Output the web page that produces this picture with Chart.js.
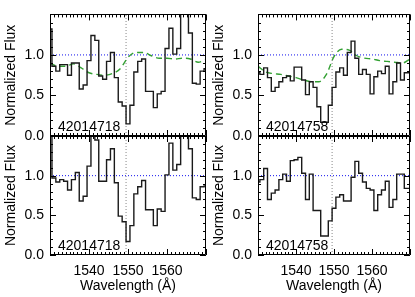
<!DOCTYPE html>
<html><head><meta charset="utf-8">
<script src="https://cdn.jsdelivr.net/npm/chart.js@4"></script>
<style>
html,body{margin:0;padding:0;background:#fff;width:415px;height:297px;overflow:hidden}
canvas{position:absolute;left:0;top:0}
</style></head><body>
<canvas id="c0" width="415" height="297"></canvas>
<canvas id="c1" width="415" height="297"></canvas>
<canvas id="c2" width="415" height="297"></canvas>
<canvas id="c3" width="415" height="297"></canvas>
<script>
// ---- data ----
const wavelength = [1530,1531,1532,1533,1534,1535,1536,1537,1538,1539,1540,1541,1542,1543,1544,1545,1546,1547,1548,1549,1550,1551,1552,1553,1554,1555,1556,1557,1558,1559,1560,1561,1562,1563,1564,1565,1566,1567,1568,1569,1570];
const flux42014718 = [1.32,0.86,0.80,0.88,0.88,0.75,0.90,0.90,0.58,0.63,0.93,1.24,1.18,0.74,0.70,0.92,1.03,0.72,0.42,0.37,0.15,0.38,0.79,0.92,0.95,0.55,0.55,0.35,0.52,0.55,1.08,1.33,1.01,1.08,1.65,1.65,1.27,0.65,0.64,0.80,0.83];
const normFlux42014718 = [1.60,0.97,0.92,0.95,0.93,0.82,0.95,1.04,0.68,0.74,1.12,1.55,1.45,0.93,0.93,1.20,1.34,0.91,0.49,0.42,0.17,0.37,0.77,0.86,0.94,0.57,0.57,0.37,0.58,0.55,1.01,1.41,1.07,1.14,1.70,1.60,1.34,0.72,0.70,0.86,0.87];
const flux42014758 = [0.78,0.76,0.84,0.72,0.55,0.60,0.67,0.72,0.74,0.68,0.85,0.85,0.69,0.51,0.67,0.60,0.36,0.17,0.17,0.38,0.60,0.79,0.84,0.75,1.03,1.17,0.96,0.76,0.82,0.76,0.52,0.73,0.80,0.77,0.86,0.52,0.67,0.90,0.69,0.78,0.78];
const normFlux42014758 = [0.92,0.95,1.09,0.70,0.78,0.82,0.95,1.02,0.93,1.19,1.20,1.23,1.03,0.70,1.02,0.56,0.56,0.24,0.24,0.43,0.59,0.73,0.76,0.68,0.68,0.98,1.18,1.03,0.92,0.84,0.82,0.56,0.76,0.82,0.93,0.60,0.70,1.02,1.02,0.84,0.84];
const modelWave = [1530,1532,1534,1536,1538,1540,1542,1544,1546,1548,1550,1552,1554,1556,1558,1560,1562,1564,1566,1568,1570];
const model42014718 = [0.90,0.86,0.86,0.89,0.84,0.78,0.76,0.75,0.77,0.83,0.97,1.03,1.03,0.99,0.96,0.96,0.95,0.96,0.95,0.91,0.94];
const model42014758 = [0.86,0.79,0.77,0.76,0.74,0.72,0.69,0.67,0.67,0.76,0.98,1.07,1.06,0.99,0.96,0.95,0.93,0.92,0.91,0.90,0.95];
const xTickValues = [1540,1550,1560];
const yTickValues = [0.0,0.5,1.0];
const lineCentre = 1549.5;
const continuumLevel = 1.0;
const xRange = [1530,1570];
const yRange = [0,1.5];

Chart.defaults.font.family = "'Liberation Sans', Arial, Helvetica, sans-serif";
Chart.defaults.font.size = 14;
Chart.defaults.color = '#000';

const framePlugin = {
  id: 'frame',
  afterDatasetsDraw(chart, args, o) {
    const {ctx, chartArea: a, scales: {x, y}} = chart;
    ctx.save();
    ctx.strokeStyle = '#000';
    ctx.lineWidth = 1;
    ctx.beginPath();
    ctx.rect(Math.round(a.left)+0.5, Math.round(a.top)+0.5, Math.round(a.right-a.left)-1, Math.round(a.bottom-a.top)-1);
    ctx.stroke();
    ctx.beginPath();
    for (let v = xRange[0]; v <= xRange[1]; v += 1) {
      const px = Math.round(x.getPixelForValue(v)) + 0.5;
      const len = (v % 10 === 0) ? 6 : 3;
      ctx.moveTo(px, a.bottom); ctx.lineTo(px, a.bottom - len);
      ctx.moveTo(px, a.top); ctx.lineTo(px, a.top + len);
    }
    for (let k = 0; k <= 15; k++) {
      const v = k / 10;
      const py = Math.round(y.getPixelForValue(v)) + 0.5;
      const len = (k % 5 === 0) ? 6 : 3;
      ctx.moveTo(a.left, py); ctx.lineTo(a.left + len, py);
      ctx.moveTo(a.right, py); ctx.lineTo(a.right - len, py);
    }
    ctx.stroke();
    ctx.fillStyle = '#000';
    ctx.font = "14px 'Liberation Sans', Arial, sans-serif";
    ctx.textBaseline = 'alphabetic';
    ctx.textAlign = 'left';
    ctx.fillText(o.label, a.left + 8, a.bottom - 5);
    ctx.restore();
  }
};

function makePanel(id, cfg) {
  const datasets = [{
    data: wavelength.map((w, i) => ({x: w, y: cfg.flux[i]})),
    stepped: 'middle', borderColor: '#1a1a1a', borderWidth: 1.4,
    pointRadius: 0, fill: false, clip: 0
  }];
  if (cfg.model) {
    datasets.push({
      data: modelWave.map((w, i) => ({x: w, y: cfg.model[i]})),
      borderColor: '#33a033', borderWidth: 1.4, borderDash: [6, 4],
      cubicInterpolationMode: 'monotone', pointRadius: 0, fill: false, clip: 0
    });
  }
  datasets.push({
    data: [{x: xRange[0], y: continuumLevel}, {x: xRange[1], y: continuumLevel}],
    borderColor: '#1010ee', borderWidth: 1, borderDash: [1, 2], pointRadius: 0, fill: false
  });
  datasets.push({
    data: [{x: lineCentre, y: yRange[0]}, {x: lineCentre, y: yRange[1]}],
    borderColor: '#888', borderWidth: 1, borderDash: [1, 2], pointRadius: 0, fill: false
  });
  new Chart(document.getElementById(id), {
    type: 'line',
    data: {datasets},
    plugins: [framePlugin],
    options: {
      responsive: false, animation: false, devicePixelRatio: 1, events: [],
      layout: {padding: {left: cfg.padLeft, right: 415 - cfg.right, top: cfg.top, bottom: cfg.showX ? 0 : 297 - cfg.bottom}},
      plugins: {legend: {display: false}, tooltip: {enabled: false}, frame: {label: cfg.label}},
      scales: {
        x: {
          type: 'linear', min: xRange[0], max: xRange[1], display: cfg.showX,
          grid: {display: false, drawTicks: false}, border: {display: false},
          afterBuildTicks: s => { s.ticks = xTickValues.map(v => ({value: v})); },
          afterFit: s => { s.height = cfg.showX ? 297 - cfg.bottom : 0; },
          ticks: {padding: 8, maxRotation: 0, autoSkip: false, callback: v => String(v)},
          title: {display: true, text: 'Wavelength (Å)', padding: {top: 0, bottom: 2}}
        },
        y: {
          type: 'linear', min: yRange[0], max: yRange[1],
          grid: {display: false, drawTicks: false}, border: {display: false},
          afterBuildTicks: s => { s.ticks = yTickValues.map(v => ({value: v})); },
          afterFit: s => { s.width = cfg.left - cfg.padLeft; },
          ticks: {padding: 6, autoSkip: false, callback: v => Number(v).toFixed(1)},
          title: {display: true, text: 'Normalized Flux', padding: {top: 3, bottom: 0}}
        }
      }
    }
  });
}

makePanel('c0', {left: 50, right: 206, top: 6, bottom: 136, padLeft: 0, showX: false, flux: flux42014718, model: model42014718, label: '42014718'});
makePanel('c1', {left: 50, right: 206, top: 136, bottom: 255, padLeft: 0, showX: true, flux: normFlux42014718, model: null, label: '42014718'});
makePanel('c2', {left: 258, right: 410, top: 6, bottom: 136, padLeft: 208, showX: false, flux: flux42014758, model: model42014758, label: '42014758'});
makePanel('c3', {left: 258, right: 410, top: 136, bottom: 255, padLeft: 208, showX: true, flux: normFlux42014758, model: null, label: '42014758'});
</script>
</body></html>
